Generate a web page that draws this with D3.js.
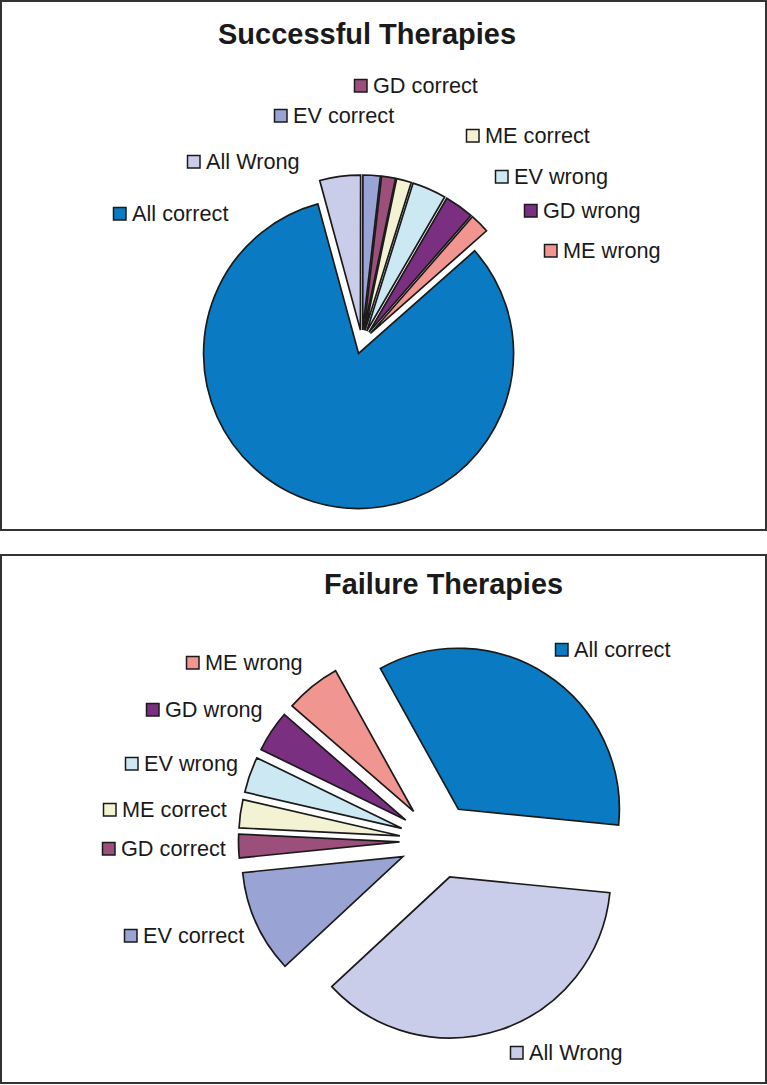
<!DOCTYPE html>
<html>
<head>
<meta charset="utf-8">
<script src="https://cdn.jsdelivr.net/npm/d3@7/dist/d3.min.js"></script>
<style>
  html, body { margin: 0; padding: 0; background: #fff; }
  svg { display: block; }
  text { font-family: "Liberation Sans", Arial, Helvetica, sans-serif; fill: #1a1a1a; }
</style>
</head>
<body>
<svg id="chart" width="767" height="1085"></svg>
<script>
// ---- data ----
const categories = ["All correct", "All Wrong", "EV correct", "GD correct", "ME correct", "EV wrong", "GD wrong", "ME wrong"];
const successValues = [82.3, 4.25, 1.8, 1.45, 1.55, 3.55, 3.05, 2.05];
const failureValues = [34.6, 36.5, 10.33, 2.36, 2.83, 3.6, 4.17, 5.56];
const titles = ["Successful Therapies", "Failure Therapies"];
const colors = ["#0a7bc2", "#c9cde9", "#99a3d4", "#9c4f7a", "#f3f2d2", "#cce9f3", "#7b2f80", "#f09590"];

// ---- layout (positions only) ----
const panels = [
  { y0: 1, y1: 530, cx: 362, cy: 342, r: 155, explode: 12, start: 48.5,
    title: { x: 367, y: 44, len: 298 },
    labels: [[113,221],[187,169],[274,123],[354,93],[466,143],[495,184],[524,218],[544,258]] },
  { y0: 555, y1: 1083, cx: 437.5, cy: 841, r: 161, explode: 38, start: 331,
    title: { x: 443.5, y: 594, len: 239 },
    labels: [[555,657],[510,1060],[124,943],[102,856],[103,817],[125,771],[146,717],[186,670]] }
];
const seriesValues = [successValues, failureValues];

const svg = d3.select("#chart");
const color = d3.scaleOrdinal().domain(categories).range(colors);

panels.forEach((p, i) => {
  const g = svg.append("g");
  g.append("rect")
    .attr("x", 1).attr("y", p.y0)
    .attr("width", 765).attr("height", p.y1 - p.y0)
    .attr("fill", "none").attr("stroke", "#333").attr("stroke-width", 2);

  g.append("text")
    .attr("x", p.title.x).attr("y", p.title.y)
    .attr("text-anchor", "middle")
    .attr("font-size", 29).attr("font-weight", "bold")
    .attr("textLength", p.title.len).attr("lengthAdjust", "spacingAndGlyphs")
    .text(titles[i]);

  const data = categories.map((c, k) => ({ cat: c, value: seriesValues[i][k] }));
  const a0 = p.start * Math.PI / 180;
  const pie = d3.pie().sort(null).value(d => d.value).startAngle(a0).endAngle(a0 + 2 * Math.PI);
  const arc = d3.arc().innerRadius(0).outerRadius(p.r);

  g.append("g").attr("transform", `translate(${p.cx},${p.cy})`)
    .selectAll("path").data(pie(data)).enter().append("path")
    .attr("d", arc)
    .attr("transform", d => {
      const m = (d.startAngle + d.endAngle) / 2;
      return `translate(${p.explode * Math.sin(m)},${-p.explode * Math.cos(m)})`;
    })
    .attr("fill", d => color(d.data.cat))
    .attr("stroke", "#1a1a1a").attr("stroke-width", 1.7).attr("stroke-linejoin", "miter");

  const lab = g.append("g").selectAll("g").data(data).enter().append("g")
    .attr("transform", (d, k) => `translate(${p.labels[k][0]},${p.labels[k][1]})`);
  lab.append("rect")
    .attr("x", 0.5).attr("y", -13.5).attr("width", 12.5).attr("height", 12.5)
    .attr("fill", d => color(d.cat)).attr("stroke", "#1a1a1a").attr("stroke-width", 1.5);
  lab.append("text")
    .attr("x", 19).attr("y", 0)
    .attr("font-size", 21.7)
    .text(d => d.cat);
});
</script>
</body>
</html>
